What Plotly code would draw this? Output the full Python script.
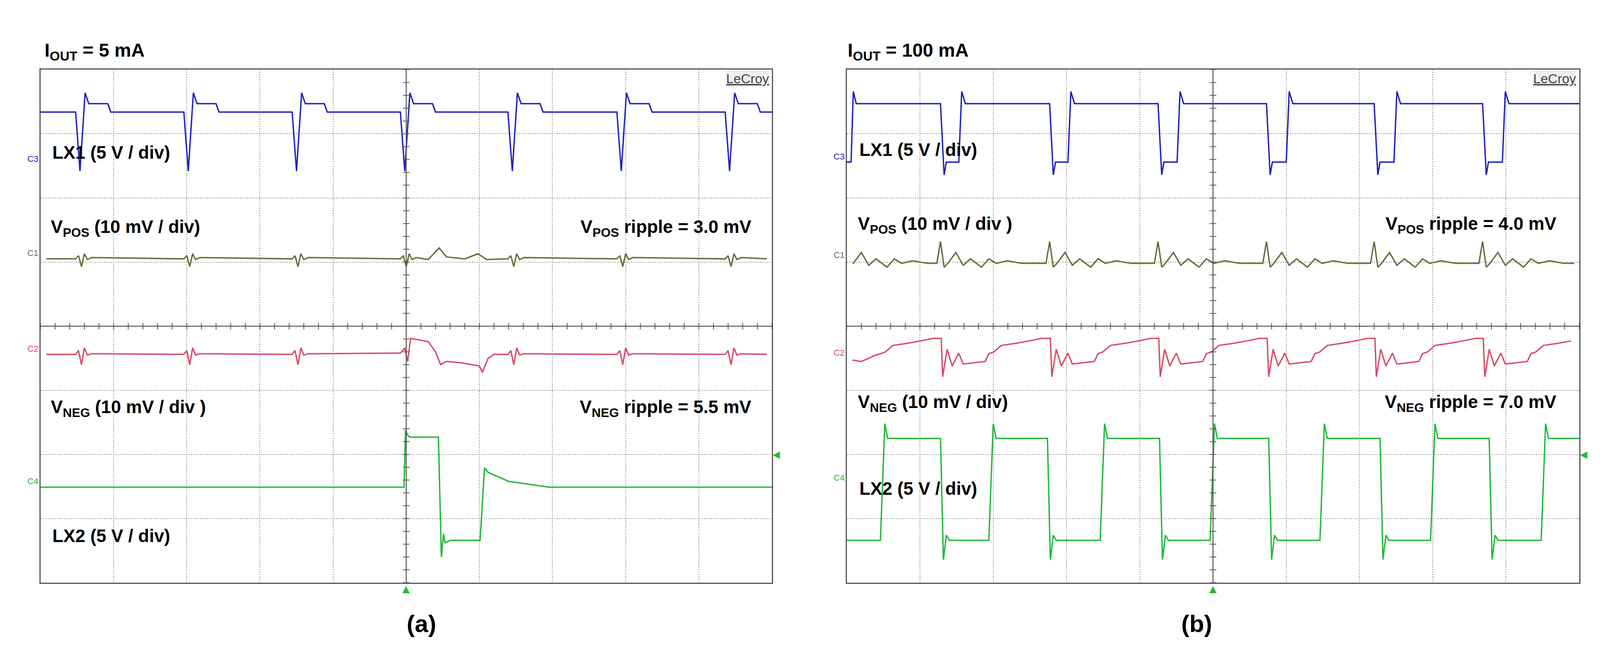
import plotly.graph_objects as go
import numpy as np

W, H = 4351, 1699
FONT = "Liberation Sans Narrow, Liberation Sans, Arial"

# ---------- data (divisions: x 0..10, y 0..8) ----------
# Panel (a) IOUT = 5 mA
a_events = [0.54, 2.02, 3.50, 4.98, 6.45, 7.94, 9.42]
a_lx1_shape_dx = [-0.06, 0.0, 0.07, 0.12, 0.38, 0.42]
a_lx1_shape_y = [7.34, 6.42, 7.64, 7.47, 7.47, 7.34]
a_lx1_base = 7.34
a_vpos_shape_dx = [-0.06, -0.02, 0.02, 0.06, 0.10, 0.16]
a_vpos_shape_y = [5.05, 5.10, 4.93, 5.13, 5.04, 5.07]
a_vpos_base = 5.05
a_vpos_extra_x = [5.30, 5.45, 5.55, 5.80, 5.98, 6.10]
a_vpos_extra_y = [5.04, 5.22, 5.08, 5.05, 5.13, 5.04]
a_vneg_shape_dx = [-0.06, -0.02, 0.02, 0.06, 0.10, 0.16]
a_vneg_shape_y = [3.56, 3.62, 3.40, 3.66, 3.55, 3.57]
a_vneg_base = 3.56
a_vneg_trig_x = [4.92, 4.98, 5.02, 5.06, 5.30, 5.40, 5.47, 5.55, 5.75, 6.00, 6.04, 6.12, 6.20]
a_vneg_trig_y = [3.58, 3.66, 3.45, 3.81, 3.76, 3.60, 3.40, 3.45, 3.43, 3.38, 3.28, 3.50, 3.56]
a_lx2_x = [0.0, 4.97, 4.99, 5.02, 5.05, 5.44, 5.48, 5.51, 5.53, 5.60, 6.01, 6.07, 6.12, 6.40, 6.95, 10.0]
a_lx2_y = [1.49, 1.49, 2.38, 2.30, 2.27, 2.27, 0.40, 0.76, 0.62, 0.66, 0.66, 1.79, 1.72, 1.58, 1.49, 1.49]

# Panel (b) IOUT = 100 mA
b_fall = [1.29, 2.78, 4.26, 5.74, 7.21, 8.69]
b_rise = [1.54, 3.03, 4.52, 6.01, 7.48, 8.96]
b_lx1_hi, b_lx1_pk, b_lx1_lo, b_lx1_dip = 7.47, 7.66, 6.56, 6.36
b_vpos_shape_dx = [-0.06, -0.01, 0.04, 0.09, 0.20, 0.30, 0.40, 0.55, 0.65, 0.75, 0.90, 1.10]
b_vpos_shape_y = [4.98, 5.32, 4.92, 4.98, 5.15, 4.95, 5.05, 4.92, 5.05, 4.98, 5.02, 4.98]
b_vneg_shape_dx = [0.0, 0.02, 0.08, 0.15, 0.24, 0.30, 0.45, 0.60, 0.65, 0.72, 0.82, 1.00, 1.20, 1.37]
b_vneg_shape_y = [3.81, 3.21, 3.64, 3.38, 3.58, 3.41, 3.43, 3.45, 3.57, 3.60, 3.70, 3.73, 3.77, 3.81]
b_lx2_rise = [0.48, 1.96, 3.48, 4.98, 6.48, 7.99, 9.50]
b_lx2_fall = [1.28, 2.74, 4.27, 5.76, 7.28, 8.77]
b_lx2_hi, b_lx2_pk, b_lx2_lo, b_lx2_dip = 2.25, 2.48, 0.66, 0.36

BLUE, OLIVE, RED, GREEN = "#2020c0", "#6b6b3a", "#d84a66", "#22b83a"


def events_wave(events, dx, dy, base, x0, x1):
    xs, ys = [x0], [base]
    for e in events:
        for a, b in zip(dx, dy):
            if x0 <= e + a <= x1:
                xs.append(e + a); ys.append(b)
    xs.append(x1); ys.append(base)
    return xs, ys


def merge(x1, y1, x2, y2):
    pts = sorted(zip(list(x1) + list(x2), list(y1) + list(y2)))
    return [p[0] for p in pts], [p[1] for p in pts]


ax_lx1 = events_wave(a_events, a_lx1_shape_dx, a_lx1_shape_y, a_lx1_base, 0.0, 10.0)
ax_vpos = events_wave(a_events, a_vpos_shape_dx, a_vpos_shape_y, a_vpos_base, 0.08, 9.93)
ax_vpos = merge(*ax_vpos, a_vpos_extra_x, a_vpos_extra_y)
ev_no_trig = [e for e in a_events if abs(e - 4.98) > 0.1]
ax_vneg = events_wave(ev_no_trig, a_vneg_shape_dx, a_vneg_shape_y, a_vneg_base, 0.08, 9.93)
ax_vneg = merge(*ax_vneg, a_vneg_trig_x, a_vneg_trig_y)
ax_lx2 = (a_lx2_x, a_lx2_y)

bx, by = [0.0, 0.06, 0.09, 0.13], [b_lx1_lo, b_lx1_lo, b_lx1_pk, b_lx1_hi]
for f, r in zip(b_fall, b_rise):
    bx += [f - 0.01, f + 0.04, f + 0.07, r - 0.01, r + 0.03, r + 0.08]
    by += [b_lx1_hi, b_lx1_dip, b_lx1_lo, b_lx1_lo, b_lx1_pk, b_lx1_hi]
bx.append(10.0); by.append(b_lx1_hi)
bx_lx1 = (bx, by)
bx_vpos = events_wave([0.0] + b_fall, b_vpos_shape_dx, b_vpos_shape_y, 4.98, 0.08, 9.93)
bvx, bvy = [0.08, 0.2, 0.4], [3.47, 3.45, 3.55]
for f in [-0.19] + b_fall:
    for a, b in zip(b_vneg_shape_dx, b_vneg_shape_y):
        if 0.45 <= f + a <= 9.93:
            bvx.append(f + a); bvy.append(b)
bx_vneg = (bvx, bvy)
gx, gy = [0.0], [b_lx2_lo]
allev = sorted([(r, 'r') for r in b_lx2_rise] + [(f, 'f') for f in b_lx2_fall])
for t, k in allev:
    if k == 'r':
        gx += [t - 0.02, t + 0.04, t + 0.08, t + 0.12]
        gy += [b_lx2_lo, b_lx2_pk, b_lx2_hi, b_lx2_hi]
    else:
        gx += [t, t + 0.04, t + 0.08, t + 0.12]
        gy += [b_lx2_hi, b_lx2_dip, b_lx2_lo + 0.08, b_lx2_lo]
gx.append(10.0); gy.append(b_lx2_hi)
bx_lx2 = (gx, gy)

fig = go.Figure()

panels = [
    ("x", "y", [ax_lx1, ax_vpos, ax_vneg, ax_lx2]),
    ("x2", "y2", [bx_lx1, bx_vpos, bx_vneg, bx_lx2]),
]
colors = [BLUE, OLIVE, RED, GREEN]
for xa, ya, trs in panels:
    for (xs, ys), c in zip(trs, colors):
        fig.add_trace(go.Scatter(x=xs, y=ys, mode="lines", line=dict(color=c, width=3.5),
                                 xaxis=xa, yaxis=ya, showlegend=False, hoverinfo="skip"))
    tv = np.arange(0, 8.01, 0.2)
    fig.add_trace(go.Scatter(x=[5] * len(tv), y=tv, mode="markers",
                             marker=dict(symbol="line-ew-open", size=12, color="#555",
                                         line=dict(color="#555", width=2)),
                             xaxis=xa, yaxis=ya, showlegend=False, hoverinfo="skip"))
    th = np.arange(0, 10.01, 0.2)
    fig.add_trace(go.Scatter(x=th, y=[4] * len(th), mode="markers",
                             marker=dict(symbol="line-ns-open", size=12, color="#555",
                                         line=dict(color="#555", width=2)),
                             xaxis=xa, yaxis=ya, showlegend=False, hoverinfo="skip"))

axcommon = dict(range=[0, 10], dtick=1, showgrid=True, gridcolor="#9a9a9a", griddash="dot",
                gridwidth=2, zeroline=False, showticklabels=False, ticks="",
                showline=True, linecolor="#555", linewidth=3, mirror=True)
aycommon = dict(range=[0, 8], dtick=1, showgrid=True, gridcolor="#9a9a9a", griddash="dot",
                gridwidth=2, zeroline=False, showticklabels=False, ticks="",
                showline=True, linecolor="#555", linewidth=3, mirror=True)
ydom = [1 - 1497 / H, 1 - 172 / H]
fig.update_layout(
    autosize=True, margin=dict(l=0, r=0, t=0, b=0),
    paper_bgcolor="white", plot_bgcolor="white",
    font=dict(family=FONT, color="black", size=40),
    xaxis=dict(domain=[102 / W, 2099 / W], **axcommon),
    yaxis=dict(domain=ydom, **aycommon),
    xaxis2=dict(domain=[2303 / W, 4303 / W], anchor="y2", **axcommon),
    yaxis2=dict(domain=ydom, anchor="x2", **aycommon),
)

for xa, ya in [("x", "y"), ("x2", "y2")]:
    fig.add_shape(type="line", x0=5, x1=5, y0=0, y1=8, xref=xa, yref=ya, line=dict(color="#555", width=2.5))
    fig.add_shape(type="line", x0=0, x1=10, y0=4, y1=4, xref=xa, yref=ya, line=dict(color="#555", width=2.5))

fs = 46
def txt(xa, ya, x, y, s, anchor="left", size=fs, color="black"):
    fig.add_annotation(x=x, y=y, xref=xa, yref=ya, text=s, showarrow=False, xanchor=anchor,
                       font=dict(family=FONT, size=size, color=color))

txt("x", "y", 0.15, 6.71, "<b>LX1 (5 V / div)</b>")
txt("x", "y", 0.13, 5.53, "<b>V<sub>POS</sub> (10 mV / div)</b>")
txt("x", "y", 9.73, 5.53, "<b>V<sub>POS</sub> ripple = 3.0 mV</b>", anchor="right")
txt("x", "y", 0.13, 2.72, "<b>V<sub>NEG</sub> (10 mV / div )</b>")
txt("x", "y", 9.73, 2.72, "<b>V<sub>NEG</sub> ripple = 5.5 mV</b>", anchor="right")
txt("x", "y", 0.15, 0.73, "<b>LX2 (5 V / div)</b>")
txt("x2", "y2", 0.16, 6.75, "<b>LX1 (5 V / div)</b>")
txt("x2", "y2", 0.14, 5.58, "<b>V<sub>POS</sub> (10 mV / div )</b>")
txt("x2", "y2", 9.70, 5.58, "<b>V<sub>POS</sub> ripple = 4.0 mV</b>", anchor="right")
txt("x2", "y2", 0.14, 2.80, "<b>V<sub>NEG</sub> (10 mV / div)</b>")
txt("x2", "y2", 9.70, 2.80, "<b>V<sub>NEG</sub> ripple = 7.0 mV</b>", anchor="right")
txt("x2", "y2", 0.16, 1.47, "<b>LX2 (5 V / div)</b>")

for xa, ya in [("x", "y"), ("x2", "y2")]:
    fig.add_annotation(x=9.97, y=7.86, xref=xa, yref=ya, text="<u>LeCroy</u>", showarrow=False,
                       xanchor="right", font=dict(family=FONT, size=34, color="#444"),
                       bgcolor="#eeeeee")

for xpix, lbls in [(102, [(6.52, "C3", BLUE), (5.05, "C1", OLIVE), (3.56, "C2", RED), (1.49, "C4", GREEN)]),
                   (2303, [(6.56, "C3", BLUE), (5.02, "C1", OLIVE), (3.50, "C2", RED), (1.55, "C4", GREEN)])]:
    for yv, s, c in lbls:
        yp = ydom[0] + (ydom[1] - ydom[0]) * yv / 8
        fig.add_annotation(x=(xpix - 4) / W, y=yp, xref="paper", yref="paper", text=s, showarrow=False,
                           xanchor="right", yanchor="bottom", font=dict(family=FONT, size=22, color=c))

# trigger markers (as text glyphs)
for xa, ya in [("x", "y"), ("x2", "y2")]:
    fig.add_annotation(x=5, y=0, xref=xa, yref=ya, text="▲", showarrow=False, yanchor="top",
                       font=dict(family="DejaVu Sans", size=24, color=GREEN))
    fig.add_annotation(x=10, y=2, xref=xa, yref=ya, text="◀", showarrow=False, xanchor="left",
                       font=dict(family="DejaVu Sans", size=24, color=GREEN))

fig.add_annotation(x=111 / W, y=1 - 93 / H, xref="paper", yref="paper", text="<b>I<sub>OUT</sub> = 5 mA</b>",
                   showarrow=False, xanchor="left", font=dict(family=FONT, size=48, color="black"))
fig.add_annotation(x=2303 / W, y=1 - 93 / H, xref="paper", yref="paper", text="<b>I<sub>OUT</sub> = 100 mA</b>",
                   showarrow=False, xanchor="left", font=dict(family=FONT, size=48, color="black"))
fig.add_annotation(x=1099 / W, y=1 - 1639 / H, xref="paper", yref="paper", text="<b>(a)</b>",
                   showarrow=False, font=dict(family="Liberation Sans, Arial", size=62, color="black"))
fig.add_annotation(x=3303 / W, y=1 - 1639 / H, xref="paper", yref="paper", text="<b>(b)</b>",
                   showarrow=False, font=dict(family="Liberation Sans, Arial", size=62, color="black"))

fig.write_html("out.html", default_width="100%", default_height="100%")
